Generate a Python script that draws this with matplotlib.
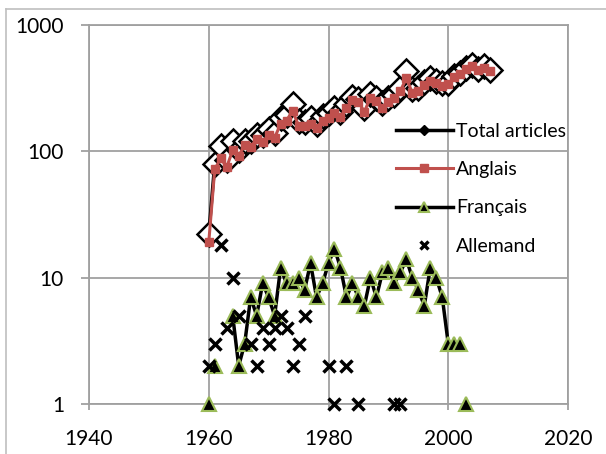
import numpy as np
import matplotlib
matplotlib.use("Agg")
import matplotlib.pyplot as plt
from matplotlib.ticker import FixedLocator, FixedFormatter
from matplotlib.lines import Line2D

plt.rcParams['font.family'] = ['Lato', 'DejaVu Sans']

years = list(range(1960, 2008))

total = [22, 80, 110, 85, 120, 102, 120, 120, 135, 135,
         150, 140, 185, 195, 235, 175, 170, 185, 165, 190,
         200, 220, 205, 235, 270, 260, 220, 285, 265, 240,
         265, 280, 320, 430, 310, 320, 355, 380, 360, 345,
         350, 395, 420, 460, 485, 450, 470, 440]

anglais = [19, 72, 88, 75, 102, 92, 112, 108, 125, 118,
           135, 128, 165, 175, 210, 160, 158, 165, 152, 175,
           185, 200, 188, 220, 254, 245, 206, 266, 250, 220,
           245, 265, 300, 380, 290, 300, 335, 360, 345, 330,
           340, 385, 410, 450, 470, 440, 460, 430]

fr_years = [1960, 1961, 1964, 1965, 1966, 1967, 1968, 1969, 1970, 1971,
            1972, 1973, 1974, 1975, 1976, 1977, 1978, 1979, 1980, 1981,
            1982, 1983, 1984, 1985, 1986, 1987, 1988, 1989, 1990, 1991,
            1992, 1993, 1994, 1995, 1996, 1997, 1998, 1999, 2000, 2001,
            2002, 2003]
francais = [1, 2, 5, 2, 3, 7, 5, 9, 7, 5,
            12, 9, 9, 10, 8, 13, 7, 9, 13, 17,
            12, 7, 9, 7, 6, 10, 7, 11, 12, 9,
            11, 14, 10, 8, 6, 12, 10, 7, 3, 3,
            3, 1]

de_years = [1960, 1961, 1962, 1963, 1964, 1965, 1967, 1968, 1969, 1970,
            1971, 1972, 1973, 1974, 1975, 1976, 1980, 1981, 1983, 1985,
            1991, 1992]
allemand = [2, 3, 18, 4, 10, 5, 3, 2, 4, 3,
            4, 5, 4, 2, 3, 5, 2, 1, 2, 1,
            1, 1]

red = '#C0504D'
green = '#9BBB59'
grid_c = '#A0A0A0'

fig = plt.figure(figsize=(6.06, 4.54), dpi=100)
ax = fig.add_axes([89 / 606, 1 - 404 / 454, (568 - 89) / 606, (404 - 25) / 454])

# chart border
fig.add_artist(Line2D([6 / 606, 6 / 606], [0, 1 - 9 / 454], color='#BFBFBF', lw=1.2))
fig.add_artist(Line2D([6 / 606, 1], [1 - 9 / 454, 1 - 9 / 454], color='#BFBFBF', lw=1.2))

ax.plot(years, total, color='black', lw=2.5, marker='D', ms=12,
        mfc='white', mec='black', mew=1.8, zorder=3, clip_on=False)
ax.plot(years, anglais, color=red, lw=2.2, marker='s', ms=5.5,
        mfc=red, mec=red, zorder=4, clip_on=False)

# French line: isolated points at the ends are not joined
i0 = fr_years.index(1964)
i1 = fr_years.index(2002)
ax.plot(fr_years[i0:i1 + 1], francais[i0:i1 + 1], color='black', lw=2.5, zorder=5)
ax.plot(fr_years, francais, ls='none', marker='^', ms=10, mfc='black',
        mec=green, mew=1.5, zorder=6, clip_on=False)
ax.plot(de_years, allemand, ls='none', marker='x', ms=8.5, mec='black',
        mew=2.5, zorder=6, clip_on=False)

ax.set_yscale('log')
ax.set_xlim(1940, 2020)
ax.set_ylim(1, 1000)
ax.yaxis.set_major_locator(FixedLocator([1, 10, 100, 1000]))
ax.yaxis.set_major_formatter(FixedFormatter(['1', '10', '100', '1000']))
ax.yaxis.set_minor_locator(FixedLocator([]))
ax.set_xticks([1940, 1960, 1980, 2000, 2020])

ax.grid(True, color=grid_c, lw=1.3)
ax.set_axisbelow(True)
for s in ax.spines.values():
    s.set_color(grid_c)
    s.set_linewidth(1.3)
ax.tick_params(axis='both', colors=grid_c, labelcolor='black', labelsize=15,
               width=1.3, direction='out')
ax.tick_params(axis='y', length=6, pad=12)
ax.tick_params(axis='x', length=4, pad=14)

handles = [
    Line2D([], [], color='black', lw=2.5, marker='D', ms=5, mfc='black', mec='black'),
    Line2D([], [], color=red, lw=2.2, marker='s', ms=6, mfc=red, mec=red),
    Line2D([], [], color='black', lw=2.5, marker='^', ms=7, mfc='black', mec=green, mew=1.5),
    Line2D([], [], ls='none', marker='x', ms=6, mec='black', mew=2.4),
]
labels = ['Total articles', 'Anglais', 'Français', 'Allemand']
ax.legend(handles, labels, loc='upper left', bbox_to_anchor=(0.625, 0.763),
          frameon=False, fontsize=14, handlelength=2.9, handletextpad=0.2,
          labelspacing=1.1, borderaxespad=0)

fig.savefig('out.png', dpi=100)
